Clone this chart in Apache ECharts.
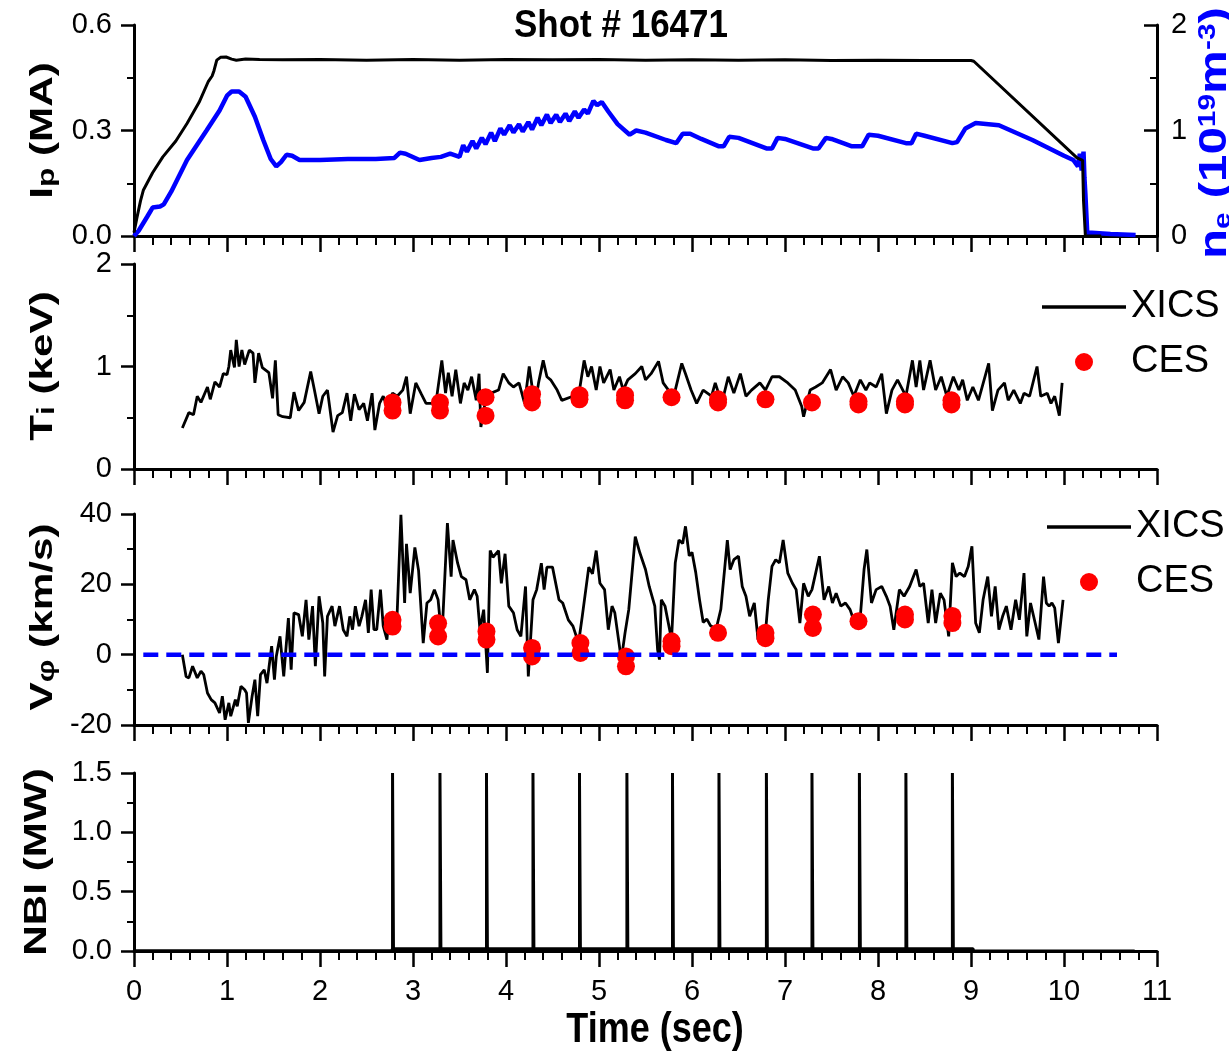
<!DOCTYPE html>
<html><head><meta charset="utf-8">
<script src="https://cdn.jsdelivr.net/npm/echarts@6/dist/echarts.min.js"></script>
<style>html,body{margin:0;padding:0;background:#fff}#c{width:1229px;height:1058px}</style>
</head><body><div id="c"></div><script>
// ---------------- DATA ----------------
const xTickLabels = ['0','1','2','3','4','5','6','7','8','9','10','11'];

const ipData = [[0.00,0.01],[0.03,0.05],[0.07,0.10],[0.10,0.13],[0.14,0.15],[0.20,0.18],[0.31,0.225],[0.45,0.27],[0.57,0.32],[0.70,0.38],[0.80,0.44],[0.84,0.455],[0.86,0.47],[0.89,0.50],[0.93,0.508],[0.99,0.509],[1.05,0.503],[1.10,0.500],[1.20,0.503],[1.35,0.502],[1.60,0.501],[2.00,0.502],[2.50,0.500],[3.00,0.502],[3.50,0.500],[4.00,0.502],[4.50,0.501],[5.00,0.502],[5.50,0.500],[6.00,0.501],[6.50,0.500],[7.00,0.501],[7.50,0.499],[8.00,0.500],[8.50,0.499],[9.00,0.499],[9.03,0.497],[10.14,0.222],[10.20,0.215],[10.21,0.10],[10.23,0.0],[10.40,0.0]];

const neData = [[0.00,0.00],[0.05,0.05],[0.14,0.18],[0.20,0.27],[0.28,0.28],[0.32,0.30],[0.40,0.42],[0.57,0.72],[0.78,1.00],[0.92,1.19],[1.00,1.33],[1.05,1.37],[1.13,1.37],[1.20,1.32],[1.30,1.13],[1.39,0.91],[1.47,0.73],[1.53,0.66],[1.58,0.70],[1.64,0.77],[1.70,0.76],[1.78,0.72],[2.00,0.72],[2.30,0.73],[2.60,0.73],[2.80,0.74],[2.86,0.79],[2.92,0.78],[3.07,0.72],[3.20,0.74],[3.30,0.75],[3.40,0.78],[3.50,0.75],[3.54,0.86],[3.58,0.80],[3.64,0.90],[3.68,0.83],[3.74,0.93],[3.78,0.87],[3.84,0.98],[3.88,0.90],[3.94,1.02],[3.98,0.96],[4.04,1.05],[4.08,0.98],[4.14,1.06],[4.18,0.99],[4.24,1.08],[4.28,1.01],[4.34,1.12],[4.38,1.05],[4.44,1.15],[4.48,1.07],[4.54,1.15],[4.58,1.08],[4.64,1.16],[4.68,1.09],[4.74,1.18],[4.78,1.12],[4.84,1.20],[4.88,1.16],[4.94,1.28],[4.98,1.24],[5.03,1.27],[5.10,1.18],[5.20,1.06],[5.33,0.96],[5.40,1.00],[5.50,0.98],[5.72,0.91],[5.83,0.88],[5.90,0.97],[5.98,0.97],[6.10,0.92],[6.29,0.85],[6.34,0.85],[6.40,0.94],[6.50,0.93],[6.80,0.83],[6.86,0.83],[6.92,0.93],[7.00,0.92],[7.30,0.83],[7.36,0.83],[7.44,0.93],[7.50,0.92],[7.72,0.85],[7.83,0.85],[7.90,0.96],[8.00,0.95],[8.30,0.88],[8.36,0.88],[8.41,0.97],[8.50,0.95],[8.80,0.88],[8.85,0.89],[8.94,1.02],[9.05,1.07],[9.30,1.05],[9.66,0.91],[10.00,0.76],[10.10,0.72],[10.15,0.66],[10.17,0.78],[10.19,0.62],[10.21,0.80],[10.22,0.55],[10.23,0.40],[10.25,0.03],[10.30,0.03],[10.50,0.02],[10.77,0.01]];

const tiXicsData = [[0.52,0.40],[0.59,0.55],[0.64,0.53],[0.68,0.71],[0.72,0.65],[0.79,0.80],[0.82,0.68],[0.87,0.85],[0.92,0.80],[0.96,0.93],[1.00,0.92],[1.02,1.00],[1.04,1.16],[1.08,0.99],[1.10,1.26],[1.13,1.00],[1.16,1.16],[1.19,1.02],[1.24,1.16],[1.28,1.13],[1.30,0.84],[1.34,1.13],[1.38,0.99],[1.45,0.94],[1.49,0.69],[1.52,1.06],[1.55,0.53],[1.60,0.51],[1.68,0.50],[1.72,0.75],[1.77,0.57],[1.83,0.65],[1.90,0.95],[1.94,0.77],[1.99,0.54],[2.03,0.71],[2.08,0.77],[2.14,0.36],[2.19,0.52],[2.24,0.55],[2.29,0.74],[2.33,0.47],[2.37,0.73],[2.42,0.58],[2.47,0.64],[2.51,0.47],[2.56,0.74],[2.59,0.38],[2.64,0.64],[2.68,0.71],[2.72,0.61],[2.78,0.74],[2.83,0.71],[2.89,0.77],[2.93,0.90],[2.97,0.54],[3.03,0.84],[3.09,0.73],[3.14,0.64],[3.20,0.64],[3.25,0.67],[3.31,1.06],[3.35,0.74],[3.38,0.94],[3.42,0.71],[3.46,0.97],[3.51,0.64],[3.55,0.84],[3.59,0.77],[3.63,0.90],[3.68,0.67],[3.71,0.93],[3.73,0.41],[3.78,0.67],[3.84,0.74],[3.92,0.77],[3.97,0.93],[4.03,0.84],[4.08,0.80],[4.14,0.84],[4.20,0.64],[4.25,1.00],[4.31,0.61],[4.35,0.84],[4.40,1.06],[4.44,0.90],[4.48,0.87],[4.55,0.77],[4.60,0.67],[4.72,0.71],[4.78,0.71],[4.84,1.06],[4.88,0.90],[4.92,1.00],[4.97,0.77],[5.01,1.00],[5.05,0.84],[5.12,0.97],[5.16,0.77],[5.22,0.90],[5.26,0.77],[5.31,0.87],[5.39,0.93],[5.46,1.00],[5.50,0.87],[5.56,0.93],[5.64,1.05],[5.69,0.84],[5.77,0.74],[5.82,0.77],[5.89,1.03],[5.93,0.93],[5.99,0.77],[6.05,0.64],[6.12,0.77],[6.21,0.71],[6.25,0.84],[6.32,0.64],[6.39,0.90],[6.45,0.74],[6.52,0.93],[6.58,0.71],[6.64,0.77],[6.73,0.84],[6.79,0.77],[6.86,0.90],[6.94,0.90],[7.03,0.84],[7.11,0.77],[7.18,0.61],[7.20,0.51],[7.27,0.77],[7.33,0.80],[7.40,0.84],[7.49,0.97],[7.55,0.77],[7.62,0.90],[7.68,0.84],[7.74,0.71],[7.81,0.87],[7.87,0.77],[7.91,0.84],[7.98,0.80],[8.04,0.93],[8.09,0.54],[8.15,0.77],[8.21,0.87],[8.30,0.71],[8.37,1.06],[8.41,0.80],[8.45,1.06],[8.49,0.77],[8.56,1.06],[8.62,0.77],[8.68,0.90],[8.74,0.71],[8.81,0.90],[8.87,0.77],[8.91,0.87],[8.96,0.67],[9.02,0.80],[9.08,0.67],[9.19,1.03],[9.23,0.57],[9.29,0.77],[9.36,0.84],[9.40,0.67],[9.46,0.77],[9.53,0.64],[9.57,0.74],[9.63,0.71],[9.71,1.00],[9.75,0.71],[9.82,0.74],[9.86,0.64],[9.90,0.71],[9.95,0.52],[9.98,0.84]];

const tiCesData = [[2.78,0.65],[2.78,0.57],[3.29,0.65],[3.29,0.57],[3.78,0.70],[3.78,0.52],[4.28,0.73],[4.28,0.65],[4.79,0.72],[4.79,0.68],[5.28,0.72],[5.28,0.67],[5.78,0.70],[6.28,0.68],[6.28,0.65],[6.79,0.68],[7.29,0.65],[7.79,0.66],[7.79,0.63],[8.29,0.66],[8.29,0.63],[8.79,0.67],[8.79,0.63]];

const vXicsData = [[0.52,0.0],[0.56,-6.2],[0.59,-6.6],[0.63,-3.3],[0.68,-6.6],[0.72,-4.7],[0.75,-5.7],[0.79,-10.9],[0.83,-12.8],[0.87,-13.7],[0.92,-16.6],[0.95,-11.8],[0.98,-18.5],[1.02,-13.7],[1.04,-17.5],[1.09,-12.8],[1.11,-14.7],[1.15,-9.0],[1.19,-10.0],[1.21,-10.9],[1.23,-19.4],[1.27,-11.8],[1.30,-7.1],[1.33,-17.5],[1.36,-5.7],[1.40,-4.3],[1.43,-8.1],[1.48,2.4],[1.51,-7.1],[1.53,-0.5],[1.57,5.2],[1.61,-6.2],[1.66,10.4],[1.69,-4.3],[1.72,11.9],[1.77,11.4],[1.81,5.2],[1.85,15.6],[1.88,4.3],[1.92,13.8],[1.95,-3.3],[1.99,16.6],[2.03,9.0],[2.05,-6.2],[2.08,10.9],[2.13,13.8],[2.16,8.1],[2.21,13.8],[2.25,7.1],[2.29,5.2],[2.32,10.9],[2.35,7.1],[2.38,13.8],[2.42,8.1],[2.45,10.9],[2.49,15.6],[2.52,6.2],[2.55,18.5],[2.58,7.1],[2.61,7.1],[2.65,18.5],[2.68,8.1],[2.72,4.3],[2.74,10.9],[2.79,6.2],[2.83,11.9],[2.87,39.8],[2.91,14.7],[2.93,31.5],[2.97,17.5],[3.02,30.5],[3.06,23.9],[3.11,3.3],[3.15,14.7],[3.19,15.6],[3.23,18.5],[3.27,15.6],[3.31,4.3],[3.37,37.4],[3.41,22.2],[3.43,32.6],[3.48,26.0],[3.52,22.2],[3.57,21.3],[3.61,15.6],[3.66,18.5],[3.69,16.6],[3.72,7.1],[3.76,12.8],[3.80,-5.2],[3.83,29.6],[3.86,27.7],[3.92,29.6],[3.95,20.3],[3.99,28.7],[4.03,13.8],[4.08,11.9],[4.12,7.1],[4.16,5.2],[4.21,19.4],[4.24,-6.2],[4.29,15.6],[4.33,18.5],[4.38,26.0],[4.41,18.5],[4.44,24.9],[4.50,24.9],[4.57,15.6],[4.61,14.7],[4.67,9.9],[4.72,8.1],[4.78,3.3],[4.82,10.9],[4.89,24.9],[4.93,23.0],[4.97,29.6],[5.01,20.3],[5.06,18.5],[5.10,7.1],[5.14,13.8],[5.17,11.9],[5.24,-1.4],[5.28,6.2],[5.32,12.8],[5.39,33.6],[5.44,28.9],[5.50,24.2],[5.54,19.4],[5.60,13.8],[5.63,1.4],[5.65,-1.4],[5.67,15.6],[5.71,13.8],[5.78,4.3],[5.82,26.1],[5.86,32.6],[5.90,31.6],[5.93,36.5],[5.97,28.1],[6.00,29.1],[6.04,23.4],[6.08,15.8],[6.12,9.2],[6.16,10.1],[6.20,8.2],[6.26,7.3],[6.31,12.9],[6.38,32.6],[6.41,24.2],[6.45,27.0],[6.50,28.0],[6.54,19.4],[6.58,16.6],[6.62,10.9],[6.67,14.7],[6.71,4.3],[6.78,3.3],[6.82,15.6],[6.86,25.1],[6.90,27.0],[6.94,26.1],[6.98,32.6],[7.03,23.2],[7.08,20.3],[7.12,18.5],[7.16,9.0],[7.20,20.3],[7.25,16.6],[7.29,18.5],[7.37,28.0],[7.42,15.6],[7.47,19.4],[7.51,14.7],[7.55,17.5],[7.60,13.8],[7.65,14.7],[7.70,12.8],[7.76,8.1],[7.81,10.9],[7.85,24.2],[7.88,29.9],[7.93,14.7],[7.98,18.5],[8.04,19.4],[8.09,16.6],[8.13,13.8],[8.17,7.1],[8.23,18.5],[8.28,16.6],[8.34,19.4],[8.41,24.2],[8.45,19.4],[8.49,20.3],[8.54,9.0],[8.58,18.5],[8.62,9.0],[8.67,17.5],[8.71,15.6],[8.76,5.2],[8.80,26.1],[8.84,22.2],[8.88,23.2],[8.93,22.2],[8.97,25.1],[9.01,30.8],[9.05,9.0],[9.09,6.2],[9.13,15.6],[9.18,22.2],[9.22,10.9],[9.26,19.4],[9.30,7.1],[9.34,10.9],[9.38,13.8],[9.43,7.1],[9.48,15.6],[9.52,9.9],[9.57,23.2],[9.60,5.2],[9.64,14.7],[9.69,9.0],[9.73,4.3],[9.78,22.2],[9.81,14.7],[9.84,13.8],[9.87,14.7],[9.90,13.3],[9.94,3.3],[9.99,15.6]];

const vCesData = [[2.78,9.9],[2.78,8.0],[3.27,8.9],[3.27,5.2],[3.79,6.6],[3.79,4.3],[4.28,1.9],[4.28,-0.5],[4.80,3.3],[4.80,0.5],[5.29,-0.5],[5.29,-3.3],[5.78,3.8],[5.78,2.4],[6.28,6.2],[6.79,6.2],[6.79,4.7],[7.30,11.4],[7.30,7.6],[7.79,9.5],[8.29,11.4],[8.29,10.0],[8.80,11.0],[8.80,9.0]];

const zeroLineData = [[0.10,0],[10.57,0]];

const nbiData = [[0.00,0.003],[2.77,0.003],[2.78,0.02],[2.78,1.5],[2.79,1.5],[2.79,0.02],[3.29,0.02],[3.29,1.5],[3.30,1.5],[3.30,0.02],[3.79,0.02],[3.79,1.5],[3.80,1.5],[3.80,0.02],[4.29,0.02],[4.29,1.5],[4.30,1.5],[4.30,0.02],[4.79,0.02],[4.79,1.5],[4.80,1.5],[4.80,0.02],[5.30,0.02],[5.30,1.5],[5.31,1.5],[5.31,0.02],[5.79,0.02],[5.79,1.5],[5.80,1.5],[5.80,0.02],[6.29,0.02],[6.29,1.5],[6.30,1.5],[6.30,0.02],[6.80,0.02],[6.80,1.5],[6.81,1.5],[6.81,0.02],[7.29,0.02],[7.29,1.5],[7.30,1.5],[7.30,0.02],[7.80,0.02],[7.80,1.5],[7.81,1.5],[7.81,0.02],[8.30,0.02],[8.30,1.5],[8.31,1.5],[8.31,0.02],[8.80,0.02],[8.80,1.5],[8.81,1.5],[8.81,0.02],[9.02,0.02],[9.03,0.0],[10.76,0.0]];

// ---------------- STYLE ----------------
const SANS = '"Liberation Sans", Arial, sans-serif';
const BLACK = '#000000', BLUE = '#0000ff', RED = '#ff0000';
const L = 134, W = 1023;
function mkGrid(top, height) {
  return {left: L, top: top, width: W, height: height, containLabel: false, outerBoundsMode: 'none'};
}
const grids = [mkGrid(25, 211), mkGrid(264, 205), mkGrid(514, 211), mkGrid(773, 178)];

function xAx(gi, labels) {
  return {
    type: 'value', gridIndex: gi, min: 0, max: 11, interval: 1,
    axisLine: {show: true, onZero: false, lineStyle: {color: BLACK, width: 3}},
    axisTick: {show: true, inside: false, length: 16, lineStyle: {color: BLACK, width: 2.5}},
    minorTick: {show: true, splitNumber: 5, length: 9, lineStyle: {color: BLACK, width: 2}},
    splitLine: {show: false},
    axisLabel: {show: labels, margin: 26, fontFamily: SANS, fontSize: 29, color: BLACK,
      formatter: v => xTickLabels[Math.round(v)]}
  };
}
function yAx(gi, min, max, interval, digits, extra) {
  return Object.assign({
    type: 'value', gridIndex: gi, position: 'left', min: min, max: max, interval: interval,
    axisLine: {show: true, onZero: false, lineStyle: {color: BLACK, width: 3}},
    axisTick: {show: true, inside: false, length: 13, lineStyle: {color: BLACK, width: 2.5}},
    minorTick: {show: true, splitNumber: 2, length: 7, lineStyle: {color: BLACK, width: 2}},
    splitLine: {show: false},
    axisLabel: {margin: 22, fontFamily: SANS, fontSize: 29, color: BLACK, formatter: v => v.toFixed(digits)}
  }, extra || {});
}

// rotated axis titles (drawn as text, stretched along the reading direction like the original)
const richL = {
  m: {fontFamily: SANS, fontWeight: 'bold', fontSize: 32, lineHeight: 32, verticalAlign: 'top', fill: BLACK},
  s: {fontFamily: SANS, fontWeight: 'bold', fontSize: 24, lineHeight: 24, padding: [22, 0, 0, 0], verticalAlign: 'bottom', fill: BLACK}
};
function vTitle(text, x, y) {
  return {type: 'text', x: x, y: y, rotation: Math.PI / 2, scaleX: 1.32, scaleY: 1, silent: true,
    style: {text: text, rich: richL, fontFamily: SANS, fontWeight: 'bold', fontSize: 32, fill: BLACK,
      align: 'center', verticalAlign: 'middle', textAlign: 'center', textVerticalAlign: 'middle'}};
}
const neTitle = {type: 'text', x: 1216, y: 133, rotation: Math.PI / 2, scaleX: 1.3, scaleY: 1, silent: true,
  style: {text: '{b|n}{be|e}{b| (10}{sp|19}{b|m}{sp|-3}{b|)}', fontFamily: SANS, fontWeight: 'bold', fontSize: 38, fill: BLUE,
    align: 'center', verticalAlign: 'middle', textAlign: 'center', textVerticalAlign: 'middle',
    rich: {
      b: {fontFamily: SANS, fontWeight: 'bold', fontSize: 38, lineHeight: 38, verticalAlign: 'bottom', fill: BLUE},
      be: {fontFamily: SANS, fontWeight: 'bold', fontSize: 23, lineHeight: 23, padding: [28, 0, 0, 0], verticalAlign: 'bottom', fill: BLUE},
      sp: {fontFamily: SANS, fontWeight: 'bold', fontSize: 23, lineHeight: 23, verticalAlign: 'top', fill: BLUE}
    }}};

const option = {
  animation: false,
  backgroundColor: '#ffffff',
  grid: grids,
  xAxis: [xAx(0, false), xAx(1, false), xAx(2, false), xAx(3, true)],
  yAxis: [
    yAx(0, 0, 0.6, 0.3, 1),
    yAx(0, 0, 2, 1, 0, {
      position: 'right',
      axisTick: {show: true, inside: true, length: 13, lineStyle: {color: BLACK, width: 2.5}},
      axisLabel: {margin: 14, fontFamily: SANS, fontSize: 29, color: BLACK, formatter: v => v.toFixed(0)}
    }),
    yAx(1, 0, 2, 1, 0),
    yAx(2, -20, 40, 20, 0),
    yAx(3, 0, 1.5, 0.5, 1)
  ],
  legend: [
    {left: 1037, top: 283, orient: 'vertical', itemWidth: 84, itemHeight: 18, itemGap: 17,
      textStyle: {fontFamily: SANS, fontSize: 38, lineHeight: 38, color: BLACK},
      data: [{name: 'XICS', icon: 'path://M0,0 H100 V4 H0 Z'}, {name: 'CES', icon: 'circle'}]},
    {left: 1042, top: 503, orient: 'vertical', itemWidth: 84, itemHeight: 18, itemGap: 17,
      textStyle: {fontFamily: SANS, fontSize: 38, lineHeight: 38, color: BLACK},
      data: [{name: 'XICS', icon: 'path://M0,0 H100 V4 H0 Z'}, {name: 'CES', icon: 'circle'}]}
  ],
  graphic: [
    {type: 'text', x: 621, y: 26, scaleY: 1.1, silent: true,
      style: {text: 'Shot # 16471', fontFamily: SANS, fontWeight: 'bold', fontSize: 35, fill: BLACK,
        align: 'center', verticalAlign: 'middle', textAlign: 'center', textVerticalAlign: 'middle'}},
    {type: 'text', x: 655, y: 1030, scaleY: 1.2, silent: true,
      style: {text: 'Time (sec)', fontFamily: SANS, fontWeight: 'bold', fontSize: 36, fill: BLACK,
        align: 'center', verticalAlign: 'middle', textAlign: 'center', textVerticalAlign: 'middle'}},
    vTitle('{m|I}{s|p}{m| (MA)}', 43.5, 130.5),
    vTitle('{m|T}{s|i}{m| (keV)}', 43.5, 366),
    vTitle('{m|V}{s|φ}{m| (km/s)}', 43.5, 617),
    vTitle('{m|NBI (MW)}', 37, 862),
    neTitle
  ],
  series: [
    {name: 'Ip', type: 'line', xAxisIndex: 0, yAxisIndex: 0, data: ipData, symbol: 'none', z: 3,
      itemStyle: {color: BLACK}, lineStyle: {color: BLACK, width: 3}},
    {name: 'ne', type: 'line', xAxisIndex: 0, yAxisIndex: 1, data: neData, symbol: 'none', z: 2,
      itemStyle: {color: BLUE}, lineStyle: {color: BLUE, width: 4.5}},
    {name: 'XICS', type: 'line', xAxisIndex: 1, yAxisIndex: 2, data: tiXicsData, symbol: 'none', z: 2,
      itemStyle: {color: BLACK}, lineStyle: {color: BLACK, width: 2.8}},
    {name: 'CES', type: 'scatter', xAxisIndex: 1, yAxisIndex: 2, data: tiCesData, symbol: 'circle', symbolSize: 18, z: 3,
      itemStyle: {color: RED, opacity: 1}},
    {name: 'XICS', type: 'line', xAxisIndex: 2, yAxisIndex: 3, data: vXicsData, symbol: 'none', z: 2,
      itemStyle: {color: BLACK}, lineStyle: {color: BLACK, width: 2.8}},
    {name: 'CES', type: 'scatter', xAxisIndex: 2, yAxisIndex: 3, data: vCesData, symbol: 'circle', symbolSize: 18, z: 3,
      itemStyle: {color: RED, opacity: 1}},
    {name: 'zero', type: 'line', xAxisIndex: 2, yAxisIndex: 3, data: zeroLineData, symbol: 'none', z: 4,
      itemStyle: {color: BLUE}, lineStyle: {color: BLUE, width: 4.5, type: [15, 8]}},
    {name: 'NBI', type: 'line', xAxisIndex: 3, yAxisIndex: 4, data: nbiData, symbol: 'none', z: 2,
      itemStyle: {color: BLACK}, lineStyle: {color: BLACK, width: 3}}
  ]
};
const chart = echarts.init(document.getElementById('c'), null, {renderer: 'canvas'});
chart.setOption(option);
</script></body></html>
